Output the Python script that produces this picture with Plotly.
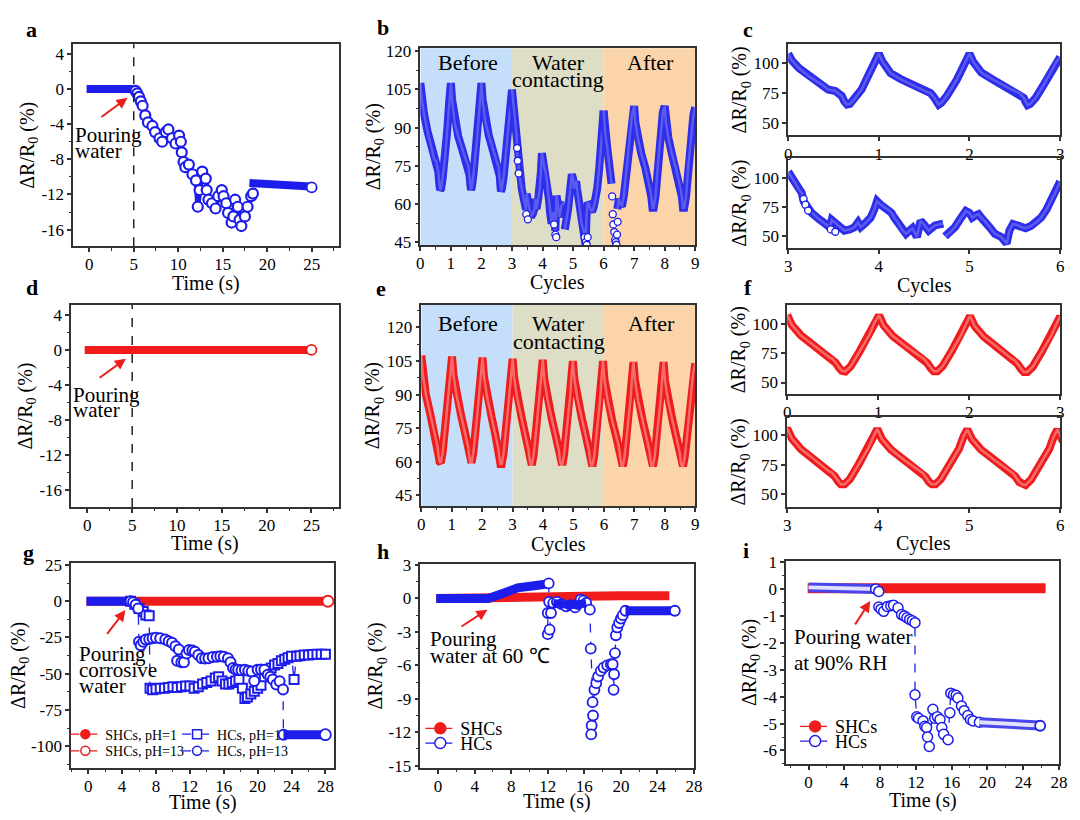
import plotly.graph_objects as go

FONT = "Liberation Serif"
BLUE = "rgb(28,28,235)"
BLUE_B = "rgb(45,45,235)"
RED = "rgb(240,28,28)"
AX = "#333333"
INNER_B = "rgba(255,255,255,0.22)"
INNER_R = "rgba(255,255,255,0.35)"

# ---------------- data ----------------
pour_time = 5.0
# panel a (HCs, pouring water)
a_band1_t = [-0.3, 4.9]
a_band1_v = [0.0, 0.0]
a_pts_t = [5.2, 5.4, 5.6, 5.8, 6.0, 6.3, 6.6, 7.1, 7.4, 7.9, 8.2, 8.6, 8.9, 9.3, 9.7, 10.1, 10.3, 10.4, 10.6, 10.8,
           11.2, 11.6, 12.0, 12.2, 12.4, 12.7, 13.1, 13.2, 13.4, 13.8, 14.2, 14.5, 14.9, 15.1, 15.4, 15.6, 16.0, 16.2,
           16.4, 16.7, 16.9, 17.1, 17.5, 17.8, 18.2, 18.4]
a_pts_v = [-0.2, -0.5, -0.9, -1.4, -1.9, -3.0, -3.8, -4.2, -4.9, -5.6, -6.0, -4.9, -4.6, -5.6, -6.2, -5.3, -6.0, -7.2,
           -8.3, -8.9, -8.6, -9.7, -10.4, -13.4, -11.5, -9.4, -10.2, -11.5, -12.6, -13.0, -13.6, -12.2, -11.5, -12.2,
           -13.0, -14.1, -15.2, -14.5, -12.6, -13.4, -14.9, -15.6, -14.5, -13.4, -12.2, -11.9]
a_band2_t = [18.0, 20.0, 22.0, 24.0, 24.9]
a_band2_v = [-10.7, -10.8, -10.9, -11.0, -11.1]
a_end_t = [25.0]
a_end_v = [-11.2]

# panel d (SHCs, pouring water)
d_band_t = [-0.3, 24.8]
d_band_v = [0.0, 0.0]
d_end_t = [25.0]
d_end_v = [0.0]

# panels b, c (HCs cycles)
bl_c = [0.00, 0.04, 0.12, 0.23, 0.37, 0.44, 0.52, 0.55, 0.59, 0.62, 0.65, 0.68, 0.73, 0.81, 0.88, 0.95,
        1.00, 1.04, 1.13, 1.24, 1.39, 1.47, 1.53, 1.57, 1.61, 1.64, 1.66, 1.69, 1.75, 1.86, 1.92, 1.97,
        2.00, 2.04, 2.13, 2.24, 2.38, 2.46, 2.52, 2.56, 2.60, 2.62, 2.64, 2.67, 2.73, 2.82, 2.90, 2.96,
        3.00]
bl_v = [107.5, 102, 95.5, 88.8, 82, 78, 76.7, 75, 72.7, 68, 65.5, 66, 70, 78, 88.8, 100.8,
        107.5, 101, 91.4, 86.6, 80.7, 78, 76, 75, 71.4, 67.4, 65.5, 67, 72.7, 86, 95, 102,
        107.5, 101, 92, 87, 81, 78, 76, 74.5, 71, 67.5, 65, 66, 71, 82, 93, 101,
        104.8]
w_c = [3.00, 3.04, 3.08, 3.12, 3.15, 3.17, 3.21, 3.26, 3.32, 3.37, 3.42, 3.46, 3.48, 3.51, 3.55, 3.62, 3.68, 3.73,
       3.77, 3.80, 3.86, 3.91, 3.95, 3.98, 4.02, 4.06, 4.10, 4.14, 4.17, 4.21, 4.25, 4.30, 4.34, 4.37, 4.42, 4.46,
       4.50, 4.55, 4.62, 4.67, 4.71, None, 4.73, 4.78, 4.84, 4.90, 4.96, 5.00, 5.03, 5.07, 5.10, 5.13, 5.17, 5.22,
       5.28, 5.35, 5.41, 5.44, 5.48, 5.52, 5.57, 5.62, 5.68, 5.74, 5.79, 5.85, 5.90, 5.95, 6.00]
w_v = [105, 100, 94, 90, 87, 80, 74, 70, 66, 63, 60, 57.8, 64, 62, 59.4, 55, 56, 57.8,
       62, 58, 62, 66, 73, 80, 77, 75, 73, 70, 66, 62, 56.4, 52.3, 55, 57, 49.5, 63.3,
       60, 55, 59.4, 60, 61, None, 50, 53, 58, 65, 71.7, 70, 66, 68, 69, 66, 63, 58,
       52.3, 49.5, 44, 55, 60.6, 60, 58, 57, 59, 62, 66, 73, 80, 88, 96.7]
ba_c = [6.00, 6.05, 6.12, 6.20, 6.26, None, 6.45, 6.50, 6.55, 6.60, 6.66, 6.75, 6.85, 6.93, 7.00, 7.04, 7.12, 7.23,
        7.37, 7.47, 7.52, 7.56, 7.60, 7.64, 7.70, 7.78, 7.87, 7.94, 8.00, 8.04, 8.12, 8.23, 8.37, 8.47, 8.52, 8.56,
        8.60, 8.64, 8.70, 8.78, 8.87, 8.94, 9.00]
ba_v = [96.7, 88, 82, 74, 68, None, 58, 62, 60, 59, 63, 73, 86, 95, 98.5, 92, 86, 80,
        74, 69, 66, 63, 58.5, 58.5, 63, 76, 88, 96, 98.5, 92, 86, 80, 74, 69, 66, 63,
        58.5, 58.5, 63, 76, 88, 95, 98]
bs_c = [3.17, 3.19, 3.22, 3.47, 3.52, 4.38, 4.42, 4.45, 5.38, 5.42, 5.45, 5.48, 6.28, 6.30, 6.32, 6.35, 6.38, 6.40,
        6.42, 6.44, 6.46]
bs_v = [82, 77, 72, 56, 54, 52, 48, 47, 47, 45, 44, 47, 63, 56, 52, 49, 46, 45, 44, 48, 53]
stage_edges = [0, 3, 6, 9]

# panels e, f (SHCs cycles)
r_c = [0.00, 0.05, 0.15, 0.30, 0.42, 0.47, 0.50, 0.53, 0.57, 0.60, 0.64, 0.70, 0.80, 0.90, 0.96,
       1.01, 1.06, 1.16, 1.31, 1.43, 1.48, 1.51, 1.54, 1.58, 1.61, 1.65, 1.71, 1.81, 1.91, 1.97,
       2.01, 2.06, 2.16, 2.31, 2.42, 2.47, 2.50, 2.53, 2.57, 2.60, 2.64, 2.70, 2.80, 2.90, 2.96,
       3.00, 3.05, 3.15, 3.30, 3.41, 3.46, 3.49, 3.52, 3.56, 3.59, 3.63, 3.69, 3.79, 3.89, 3.95,
       3.99, 4.04, 4.14, 4.29, 4.41, 4.46, 4.49, 4.52, 4.56, 4.59, 4.63, 4.69, 4.79, 4.89, 4.94,
       4.98, 5.03, 5.13, 5.28, 5.40, 5.45, 5.48, 5.51, 5.55, 5.58, 5.62, 5.68, 5.78, 5.88, 5.93,
       5.97, 6.02, 6.12, 6.27, 6.40, 6.45, 6.48, 6.51, 6.55, 6.58, 6.62, 6.68, 6.78, 6.88, 6.93,
       6.97, 7.02, 7.12, 7.27, 7.39, 7.44, 7.47, 7.50, 7.54, 7.57, 7.61, 7.67, 7.77, 7.87, 7.92,
       7.96, 8.01, 8.11, 8.26, 8.38, 8.43, 8.46, 8.49, 8.53, 8.56, 8.60, 8.66, 8.76, 8.86, 8.92,
       9.00]
r_v = [107.5, 99, 90, 81, 74, 71, 70, 67, 62.5, 60, 59.5, 64, 77, 90, 101,
       107, 98.5, 89.5, 80.5, 73.5, 70.5, 69.5, 66.5, 62, 59.5, 59.5, 64, 77, 90, 100.5,
       106.5, 98, 89, 80, 73, 70, 69, 66, 61.5, 59, 59, 63.5, 76.5, 89.5, 100,
       106, 97.5, 88.5, 79.5, 72.5, 69.5, 68.5, 65.5, 61, 58.5, 58.5, 63, 76, 89, 99.5,
       105.5, 97, 88, 79, 72, 69, 68, 65, 60.5, 58.5, 58.5, 63, 76, 89, 99.5,
       105, 97, 88, 79, 72, 69, 68, 65, 60.5, 58.5, 58, 62.5, 75.5, 88.5, 99,
       105, 96.5, 87.5, 78.5, 71.5, 68.5, 67.5, 64.5, 60, 58, 58, 62.5, 75.5, 88.5, 99,
       104.5, 96.5, 87.5, 78.5, 71.5, 68.5, 67.5, 64.5, 60, 58, 58, 62.5, 75.5, 88.5, 98.5,
       104.5, 96, 87, 78, 71, 68, 67, 64, 59.5, 58, 58, 62.5, 75.5, 88.5, 98.5,
       104]

# panel g (corrosive water)
g_red_t = [-0.2, 28.2]
g_red_v = [0.0, 0.0]
g_red_end_t = [28.3]
g_red_end_v = [0.0]
g_blue0_t = [-0.2, 4.9]
g_blue0_v = [0.0, 0.0]
g_sq_t = [5.0, 5.5, 6.0, 6.5, 6.8, 7.2, 7.3, 7.6, 8.0, 8.5, 9.0, 9.5, 10.0, 10.5, 11.0, 11.5, 12.0, 12.5, 13.0, 13.5,
          14.0, 14.5, 15.0, 15.4, 15.8, 16.2, 16.6, 17.0, 17.4, 17.8, 18.2, 18.5, 18.8, 19.2, 19.6, 20.0, 20.4, 20.8,
          21.2, 21.6, 22.0, 22.4, 22.8, 23.2, 23.6, 24.0, 24.3, 24.6, 25.0, 25.5, 26.0, 26.5, 27.0, 27.5, 28.0]
g_sq_v = [0, -2, -5, -7, -9.5, -10, -60, -61, -60.5, -60, -60, -59.5, -59, -59.5, -59, -58.5, -58.5, -60, -59, -57,
          -56, -55, -53, -52, -55, -57, -57, -56, -55, -54, -60, -67, -66, -64, -62, -60, -58, -52,
          -48, -46, -44, -43, -41, -40, -39, -38, -54, -38, -37.5, -37, -37, -36.8, -36.6, -36.5, -36.5]
g_ci_t = [5.0, 5.3, 5.6, 5.9, 6.0, 6.2, 6.5, 6.8, 7.2, 7.6, 8.0, 8.5, 9.1, 9.5, 9.9, 10.3, 10.5, 10.7, 11.0, 11.3,
          11.6, 11.9, 12.3, 12.6, 13.0, 13.4, 13.8, 14.2, 14.7, 15.2, 15.6, 16.0, 16.5, 16.8, 17.1, 17.4, 17.7, 18.1,
          18.5, 18.9, 19.3, 19.6, 20.0, 20.4, 20.8, 21.2, 21.5, 21.8, 22.2, 22.6, 23.0, 23.05]
g_ci_v = [0, -0.7, -2.5, -5, -28, -30.4, -28, -26.4, -26, -25.5, -25.2, -25.5, -26.4, -27.5, -28.7, -31, -41, -33.2,
          -42, -42.1, -36, -33.7, -34, -34.8, -37, -39.3, -39.5, -39.3, -38.5, -38.2, -38, -38.2, -39.3, -42, -46.1,
          -47, -47.3, -47.5, -47.3, -48, -48.4, -55, -47.3, -47, -47.3, -50.6, -52, -54, -57.4, -55.2, -60.8, -92]
g_ci_band_t = [23.05, 27.9]
g_ci_band_v = [-92.0, -92.0]
g_ci_end_t = [28.0]
g_ci_end_v = [-92.0]

# panel h (water at 60 C)
h_red_t = [-0.2, 5.0, 8.0, 12.0, 16.0, 20.0, 25.3]
h_red_v = [0.0, 0.0, 0.08, 0.15, 0.2, 0.25, 0.25]
h_blue_t = [-0.2, 5.5, 6.9, 8.7, 10.5, 11.9]
h_blue_v = [0.0, 0.0, 0.4, 0.95, 1.15, 1.3]
h_pts_t = [12.1, 12.15, 12.0, 12.0, 12.2, 12.35, 12.6, 13.0, 13.5, 14.0, 14.5, 15.0, 15.3, 15.6, 15.9, 16.2, 16.6,
           16.7, 16.9, 16.8, 16.75, 16.95, 17.1, 17.3, 17.5, 17.8, 18.1, 18.5, 18.9, 19.1, 19.2, 19.25, 19.35, 19.45,
           19.6, 19.8, 20.0, 20.2, 20.5]
h_pts_v = [1.35, -0.3, -1.3, -3.2, -2.8, -1.3, -0.4, -0.3, -0.5, -0.7, -0.6, -0.8, -0.5, -0.1, -0.2, -0.4, -1.0,
           -4.5, -9.3, -11.4, -12.2, -10.5, -8.2, -7.6, -7.0, -6.5, -6.2, -6.0, -5.9, -5.9, -8.2, -6.8, -4.9, -3.3,
           -2.6, -2.2, -1.8, -1.5, -1.1]
h_mid_t = [12.6, 13.5, 14.5, 15.5, 16.2]
h_mid_v = [-0.4, -0.5, -0.6, -0.5, -0.4]
h_tail_t = [20.5, 23.0, 25.8]
h_tail_v = [-1.1, -1.1, -1.1]
h_end_t = [25.9]
h_end_v = [-1.1]

# panel i (90% RH)
i_red_t = [-0.1, 26.5]
i_red_v = [0.03, 0.03]
i_blue_t = [0.0, 3.0, 6.0, 7.5]
i_blue_v = [0.06, 0.05, 0.03, 0.0]
i_pts_t = [7.5, 7.85, 7.85, 8.1, 8.4, 8.8, 9.2, 9.5, 10.0, 10.4, 10.7, 11.0, 11.3, 11.6, 11.9, 11.9, 12.1, 12.3, 12.8,
           13.0, 13.2, 13.3, 13.5, 13.9, 14.1, 14.4, 14.7, 14.9, 15.1, 15.6, 15.8, 15.9, 16.2, 16.5, 16.7, 17.1, 17.4,
           17.8, 18.1, 18.4, 19.1]
i_pts_v = [0.0, -0.09, -0.67, -0.75, -0.83, -0.65, -0.62, -0.6, -0.7, -0.95, -1.0, -1.07, -1.13, -1.18, -1.25, -3.93,
           -4.75, -4.8, -4.9, -5.1, -5.15, -5.5, -5.85, -4.47, -4.8, -4.75, -4.85, -5.15, -5.4, -5.6, -4.6, -3.87,
           -3.93, -3.95, -4.05, -4.35, -4.52, -4.7, -4.85, -4.9, -4.95]
i_tail_t = [19.1, 21.0, 23.0, 25.0, 25.8]
i_tail_v = [-4.95, -4.98, -5.02, -5.05, -5.07]
i_end_t = [25.9]
i_end_v = [-5.08]

# tick values
time25_ticks = [0, 5, 10, 15, 20, 25]
a_y_ticks = [4, 0, -4, -8, -12, -16]
cyc9_ticks = [0, 1, 2, 3, 4, 5, 6, 7, 8, 9]
b_y_ticks = [45, 60, 75, 90, 105, 120]
c_top_x_ticks = [0, 1, 2, 3]
c_bot_x_ticks = [3, 4, 5, 6]
c_y_ticks = [50, 75, 100]
time28_ticks = [0, 4, 8, 12, 16, 20, 24, 28]
g_y_ticks = [25, 0, -25, -50, -75, -100]
h_y_ticks = [3, 0, -3, -6, -9, -12, -15]
i_y_ticks = [1, 0, -1, -2, -3, -4, -5, -6]

# ---------------- figure ----------------
W, H = 1080, 820
traces = []


def ax_ids(n):
    return ("x" if n == 1 else f"x{n}"), ("y" if n == 1 else f"y{n}")


def band(n, x, y, color, width, inner=None, inner_w=2.0):
    xa, ya = ax_ids(n)
    traces.append(go.Scatter(x=x, y=y, xaxis=xa, yaxis=ya, mode="lines", line=dict(color=color, width=width),
                             showlegend=False, hoverinfo="skip"))
    if inner:
        traces.append(go.Scatter(x=x, y=y, xaxis=xa, yaxis=ya, mode="lines", line=dict(color=inner, width=inner_w),
                                 showlegend=False, hoverinfo="skip"))


def pts(n, x, y, color, size=10, symbol="circle", fill="white", lw=1.8, dash=None):
    xa, ya = ax_ids(n)
    mode = "lines+markers" if dash else "markers"
    traces.append(go.Scatter(x=x, y=y, xaxis=xa, yaxis=ya, mode=mode,
                             line=dict(color=color, width=1.3, dash=dash or "solid"),
                             marker=dict(symbol=symbol, size=size, color=fill, line=dict(color=color, width=lw)),
                             showlegend=False, hoverinfo="skip"))


# a
band(1, a_band1_t, a_band1_v, BLUE, 8)
band(1, a_pts_t, a_pts_v, BLUE, 5)
pts(1, a_pts_t, a_pts_v, BLUE, size=10, lw=2.2)
band(1, a_band2_t, a_band2_v, BLUE, 8)
pts(1, a_end_t, a_end_v, BLUE, size=10)
# d
band(5, d_band_t, d_band_v, RED, 8)
pts(5, d_end_t, d_end_v, RED, size=10)
# b
band(2, bl_c, bl_v, BLUE_B, 8, INNER_B, 2.5)
band(2, w_c, w_v, BLUE_B, 8, INNER_B, 2.5)
band(2, ba_c, ba_v, BLUE_B, 8, INNER_B, 2.5)
pts(2, bs_c, bs_v, BLUE, size=7, lw=1.3)
# c
band(3, bl_c, bl_v, BLUE_B, 8, INNER_B, 2.5)
band(4, w_c, w_v, BLUE_B, 8, INNER_B, 2.5)
pts(4, bs_c[:5], bs_v[:5], BLUE, size=7, lw=1.3)
# e, f
band(6, r_c, r_v, RED, 8, INNER_R, 2.5)
band(7, r_c, r_v, RED, 8, INNER_R, 2.5)
band(8, r_c, r_v, RED, 8, INNER_R, 2.5)
# g
band(9, g_red_t, g_red_v, RED, 9)
pts(9, g_red_end_t, g_red_end_v, RED, size=11)
band(9, g_blue0_t, g_blue0_v, BLUE, 9)
pts(9, g_sq_t, g_sq_v, BLUE, size=9, symbol="square", dash="dash", lw=2)
pts(9, g_ci_t, g_ci_v, BLUE, size=10, dash="dash", lw=2)
band(9, g_ci_band_t, g_ci_band_v, BLUE, 9)
pts(9, g_ci_end_t, g_ci_end_v, BLUE, size=11)
# h
band(10, h_red_t, h_red_v, RED, 9)
band(10, h_blue_t, h_blue_v, BLUE, 9)
pts(10, h_pts_t, h_pts_v, BLUE, size=10, dash="dash")
band(10, h_mid_t, h_mid_v, BLUE, 8)
band(10, h_tail_t, h_tail_v, BLUE, 9)
pts(10, h_end_t, h_end_v, BLUE, size=10)
# i
band(11, i_red_t, i_red_v, RED, 10)
band(11, i_blue_t, i_blue_v, "rgb(70,70,235)", 10, "rgba(225,225,255,1)", 4)
pts(11, i_pts_t, i_pts_v, BLUE, size=10, dash="dash", lw=1.5)
band(11, i_tail_t, i_tail_v, "rgb(70,70,235)", 10, "rgba(225,225,255,1)", 4)
pts(11, i_end_t, i_end_v, BLUE, size=10)

# legend-only entries (name, colour, symbol, fill, size, legend id, text-start px, row-centre px, font)
legend_entries = [
    ("SHCs, pH=1", RED, "circle", RED, 9, "legend", 102, 741, 14),
    ("SHCs, pH=13", RED, "circle", "white", 9, "legend2", 102, 758, 14),
    ("HCs, pH=1", BLUE, "square", "white", 9, "legend3", 215, 741, 14),
    ("HCs, pH=13", BLUE, "circle", "white", 9, "legend4", 215, 758, 14),
    ("SHCs", RED, "circle", RED, 11, "legend5", 461, 735, 18),
    ("HCs", BLUE, "circle", "white", 11, "legend6", 461, 750, 18),
    ("SHCs", RED, "circle", RED, 11, "legend7", 840, 733, 18),
    ("HCs", BLUE, "circle", "white", 11, "legend8", 840, 748, 18),
]
legend_layout = {}
for name, col, sym, fill, sz, lg, tx, ty, fs in legend_entries:
    traces.append(go.Scatter(x=[None], y=[None], xaxis="x9", yaxis="y9", mode="lines+markers", name=name,
                             line=dict(color=col, width=1.3, dash="dash"),
                             marker=dict(symbol=sym, size=sz, color=fill, line=dict(color=col, width=1.5)),
                             legend=lg, showlegend=True))
    legend_layout[lg] = dict(x=(tx - 40) / W, y=1 - ty / H, xanchor="left", yanchor="middle",
                             bgcolor="rgba(0,0,0,0)", borderwidth=0, itemwidth=30,
                             font=dict(family=FONT, size=fs, color="black"))

fig = go.Figure(traces)

tickfont = dict(family=FONT, size=17, color="black")
titlefont = dict(family=FONT, size=20, color="black")
YT = "ΔR/R<sub>0</sub> (%)"


def fmt(v):
    return f"{v:g}"


def axis(domain, anchor, rng, ticks, minor=None, title=None, standoff=4, is_x=True):
    d = dict(domain=domain, anchor=anchor, range=rng, tickmode="array", tickvals=ticks,
             ticktext=[fmt(v) for v in ticks], showline=True, linecolor=AX,
             linewidth=1.5, mirror=True, ticks="outside", ticklen=4, tickwidth=1.5, tickcolor=AX,
             showgrid=False, zeroline=False, tickfont=tickfont)
    if is_x:
        d["ticklabelstandoff"] = -2
    if minor:
        d["minor"] = dict(ticks="outside", ticklen=2.5, tickwidth=1.2, tickcolor=AX, dtick=minor, tick0=0,
                          showgrid=False)
    if title:
        d["title"] = dict(text=title, font=titlefont, standoff=standoff)
    return d


def px_dom(a, b):
    return [a / W, b / W]


def py_dom(top, bottom):
    return [1 - bottom / H, 1 - top / H]


panels = {
    # n: (x0px, x1px, top, bottom, xrange, xticks, xminor, yrange, yticks, yminor, xtitle, xtitle centre px)
    1: (70, 339, 37, 243, [-1.8, 28.1], time25_ticks, 2.5, [-17.9, 5.1], a_y_ticks, 2, "Time (s)", 281),
    2: (421, 699, 41, 242, [0, 9], cyc9_ticks, 0.5, [43.8, 121.2], b_y_ticks, 7.5, "Cycles", 280),
    3: (793, 1068, 37, 130, [0, 3], c_top_x_ticks, None, [40, 115.3], c_y_ticks, None, None, None),
    4: (793, 1068, 153, 245, [3, 6], c_bot_x_ticks, None, [40, 116.7], c_y_ticks, None, "Cycles", 283),
    5: (68, 339, 303, 509, [-1.8, 28.1], time25_ticks, 2.5, [-17.9, 5.1], a_y_ticks, 2, "Time (s)", 546),
    6: (422, 699, 303, 508, [0, 9], cyc9_ticks, 0.5, [40.2, 130], b_y_ticks, 7.5, "Cycles", 547),
    7: (792, 1068, 303, 394, [0, 3], c_top_x_ticks, None, [40, 115.8], c_y_ticks, None, None, None),
    8: (792, 1068, 417, 509, [3, 6], c_bot_x_ticks, None, [39.2, 115.8], c_y_ticks, None, "Cycles", 546),
    9: (68, 334, 566, 775, [-2.0, 29.05], time28_ticks, 2, [-114.9, 26.4], g_y_ticks, 12.5, "Time (s)", 810),
    10: (421, 698, 567, 775, [-1.94, 28.02], time28_ticks, 2, [-15.2, 3.1], h_y_ticks, 1.5, "Time (s)", 809),
    11: (791, 1067, 564, 771, [-2.5, 28.02], time28_ticks, 2, [-6.5, 1.04], i_y_ticks, 0.5, "Time (s)", 808),
}
lay = {}
ann = []
for n, (x0, x1, top, bot, xr, xt_, xm, yr, yt_, ym, xt, xty) in panels.items():
    xa, ya = ax_ids(n)
    xk = "xaxis" if n == 1 else f"xaxis{n}"
    yk = "yaxis" if n == 1 else f"yaxis{n}"
    lay[xk] = axis(px_dom(x0, x1), ya, xr, xt_, xm, None, is_x=True)
    lay[yk] = axis(py_dom(top, bot), xa, yr, yt_, ym, YT, standoff=0, is_x=False)
    if xt:
        ann.append(dict(text=xt, xref=f"{xa} domain", yref="paper", x=0.5, y=1 - xty / H, showarrow=False,
                        xanchor="center", yanchor="middle", font=titlefont, borderpad=0))

shapes = []
stage_colors = ["rgb(197,222,250)", "rgb(222,222,198)", "rgb(251,212,170)"]
for n in (2, 6):
    xa, ya = ax_ids(n)
    for k in range(3):
        shapes.append(dict(type="rect", xref=xa, yref=f"{ya} domain", x0=stage_edges[k], x1=stage_edges[k + 1],
                           y0=0, y1=1, fillcolor=stage_colors[k], line=dict(width=0), layer="below"))
for n in (1, 5):
    xa, ya = ax_ids(n)
    shapes.append(dict(type="line", xref=xa, yref=f"{ya} domain", x0=pour_time, x1=pour_time, y0=0, y1=1,
                       line=dict(color="#222222", width=1.5, dash="dash")))

lf = dict(family=FONT, size=22, color="black")
letters = [("a", 28, 22), ("b", 383, 20), ("c", 752, 22), ("d", 28, 285), ("e", 381, 286), ("f", 752, 285),
           ("g", 25, 555), ("h", 383, 554), ("i", 750, 553)]
for t, x, y in letters:
    ann.append(dict(text=f"<b>{t}</b>", xref="paper", yref="paper", x=x / W, y=1 - y / H, showarrow=False,
                    font=lf, xanchor="center", yanchor="middle"))


def txt(n, x, y, s, anchor="left", size=22):
    xa, ya = ax_ids(n)
    ann.append(dict(text=s, xref=xa, yref=ya, x=x, y=y, showarrow=False, xanchor=anchor, yanchor="middle",
                    font=dict(family=FONT, size=size, color="black"), borderpad=0))


def arrow(n, x, y, axx, ayy):
    xa, ya = ax_ids(n)
    ann.append(dict(text="", xref=xa, yref=ya, x=x, y=y, ax=axx, ay=ayy, axref=xa, ayref=ya, showarrow=True,
                    arrowhead=2, arrowsize=1.1, arrowwidth=2, arrowcolor="rgb(235,30,30)"))


for n, y1, y2 in ((1, -5.2, -7.0), (5, -5.1, -6.8)):
    txt(n, -1.7, y1, "Pouring", size=21)
    txt(n, -1.7, y2, "water", size=21)
    arrow(n, 4.3, -1.0, 1.2, -3.3)
for n, y1, y2 in ((2, 115.5, 108.8), (6, 121.6, 113.8)):
    txt(n, 1.55, y1, "Before", "center", 22)
    txt(n, 4.52, y1, "Water", "center", 22)
    txt(n, 4.52, y2, "contacting", "center", 22)
    txt(n, 7.55, y1, "After", "center", 22)
txt(9, -1.2, -36.7, "Pouring", size=21)
txt(9, -1.2, -47.5, "corrosive", size=21)
txt(9, -1.2, -58.6, "water", size=21)
arrow(9, 4.4, -6.1, 2.1, -23.6)
txt(10, -1.0, -3.6, "Pouring", size=21)
txt(10, -1.0, -5.2, "water at 60 ℃", size=21)
arrow(10, 5.4, -1.0, 2.4, -2.6)
txt(11, -1.75, -1.8, "Pouring water", size=21)
txt(11, -1.75, -2.75, "at 90% RH", size=21)
arrow(11, 6.9, -0.45, 5.1, -1.37)

fig.update_layout(width=W, height=H, margin=dict(l=0, r=0, t=0, b=0), paper_bgcolor="white",
                  plot_bgcolor="rgba(0,0,0,0)", shapes=shapes, annotations=ann,
                  font=dict(family=FONT, color="black"), **lay, **legend_layout)
fig.write_html("out.html")
